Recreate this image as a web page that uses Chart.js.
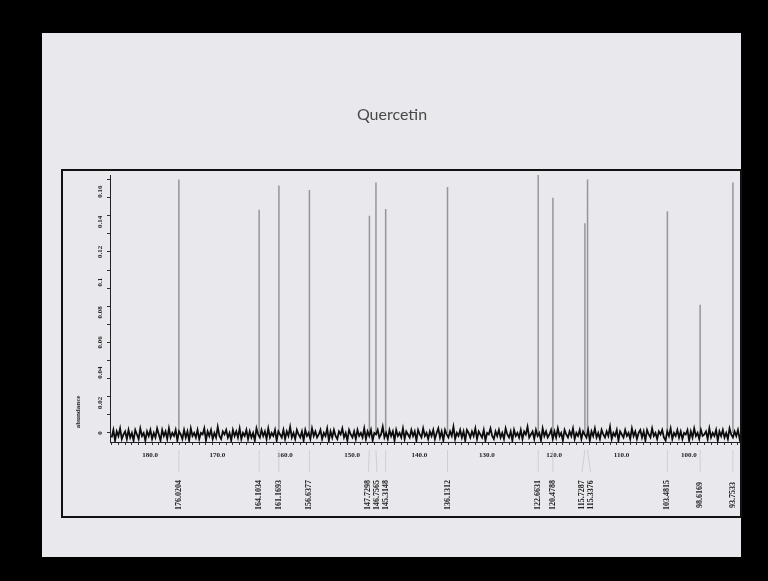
<!DOCTYPE html>
<html>
<head>
<meta charset="utf-8">
<title>Quercetin</title>
<script src="https://cdn.jsdelivr.net/npm/chart.js@4/dist/chart.umd.min.js"></script>
<style>
  html, body { margin: 0; padding: 0; background: #000; }
  canvas { display: block; }
</style>
</head>
<body>
<canvas id="spec" width="768" height="581"></canvas>
<script>
// 13C peaks (ppm) and their heights (abundance)
const peakShift = [176.0204, 164.1034, 161.1693, 156.6377, 147.7298, 146.7565, 145.3148,
  136.1312, 122.6631, 120.4788, 115.7287, 115.3376, 103.4815, 98.6169, 93.7533];
const peakHeight = [0.168, 0.148, 0.164, 0.161, 0.144, 0.166, 0.1485,
  0.163, 0.171, 0.156, 0.139, 0.168, 0.147, 0.085, 0.166];
const peakLabels = ["176.0204", "164.1034", "161.1693", "156.6377", "147.7298", "146.7565", "145.3148",
  "136.1312", "122.6631", "120.4788", "115.7287", "115.3376", "103.4815", "98.6169", "93.7533"];

const noiseStart = 186.0;
const noiseStep = 0.25;
const noise = [
  -0.003, 0.002, -0.005, 0.001, -0.002, 0.003, -0.004, -0.001, 0.001, -0.004,
  0.002, -0.003, 0.000, -0.005, 0.002, -0.001, -0.004, 0.003, -0.002, 0.000,
  -0.005, 0.001, -0.002, 0.002, -0.004, 0.000, -0.003, 0.003, -0.001, -0.005,
  0.002, -0.002, 0.001, -0.004, 0.003, -0.003, 0.000, -0.002, 0.002, -0.005,
  0.001, -0.001, -0.004, 0.002, -0.003, 0.001, -0.005, 0.003, -0.002, 0.000,
  -0.003, 0.002, -0.004, 0.000, -0.001, 0.003, -0.005, 0.001, -0.002, 0.002,
  -0.004, 0.000, -0.003, 0.004, -0.002, -0.004, 0.001, -0.001, 0.002, -0.003,
  0.000, -0.005, 0.002, -0.002, 0.001, -0.003, 0.003, -0.004, 0.000, -0.002,
  0.002, -0.004, 0.001, -0.003, 0.000, -0.005, 0.003, -0.001, -0.003, 0.002,
  -0.002, 0.001, -0.004, 0.003, -0.003, 0.000, -0.002, 0.002, -0.005, 0.001,
  -0.001, -0.003, 0.002, -0.004, 0.001, -0.002, 0.004, -0.003, 0.000, -0.004,
  0.002, -0.001, -0.003, 0.001, -0.005, 0.002, -0.002, 0.000, -0.004, 0.003,
  -0.002, 0.001, -0.003, -0.001, 0.002, -0.004, 0.000, -0.002, 0.003, -0.005,
  0.001, -0.003, 0.002, -0.002, -0.004, 0.001, -0.001, 0.003, -0.003, 0.000,
  -0.005, 0.002, -0.001, -0.003, 0.001, -0.004, 0.002, -0.002, 0.000, -0.003,
  0.003, -0.004, 0.001, -0.002, 0.002, -0.005, 0.000, -0.001, 0.002, -0.003,
  -0.001, 0.004, -0.003, 0.000, -0.004, 0.002, -0.002, 0.001, -0.005, 0.002,
  -0.002, 0.000, -0.003, 0.003, -0.004, 0.001, -0.001, -0.003, 0.002, -0.002,
  0.001, -0.005, 0.002, -0.001, -0.003, 0.003, -0.002, 0.000, -0.004, 0.001,
  -0.002, 0.002, -0.004, 0.000, 0.003, -0.003, 0.001, -0.005, 0.002, -0.001,
  -0.003, 0.001, -0.002, 0.004, -0.004, 0.000, -0.002, 0.002, -0.003, 0.001,
  -0.005, 0.002, 0.000, -0.003, 0.001, -0.002, 0.003, -0.004, 0.001, -0.001,
  -0.003, 0.002, -0.005, 0.000, -0.001, 0.003, -0.002, -0.004, 0.001, -0.002,
  0.002, -0.003, 0.000, -0.004, 0.003, -0.001, -0.003, 0.001, -0.005, 0.002,
  -0.002, 0.000, -0.003, 0.002, -0.004, 0.001, -0.001, 0.004, -0.003, -0.001,
  0.001, -0.004, 0.002, -0.002, 0.000, -0.005, 0.003, -0.002, 0.001, -0.003,
  -0.001, 0.002, -0.004, 0.001, -0.003, 0.003, -0.002, 0.000, -0.005, 0.002,
  -0.001, -0.003, 0.001, -0.002, 0.003, -0.004, 0.000, -0.002, 0.002, -0.004,
  0.001, -0.001, -0.003, 0.002, -0.005, 0.001, -0.002, 0.003, -0.003, 0.000,
  -0.004, 0.002, -0.001, -0.003, 0.001, -0.002, 0.004, -0.004, 0.000, -0.002,
  0.002, -0.005, 0.001, -0.001, -0.003, 0.002, -0.002, 0.000, -0.004, 0.003,
  -0.002, 0.001, -0.004, 0.000, 0.002, -0.003, 0.001, -0.005, 0.002, -0.001,
  -0.003, 0.003, -0.002, 0.000, -0.004, 0.001, -0.001, 0.002, -0.003, -0.005,
  0.001, -0.002, 0.003, -0.004, 0.000, -0.002, 0.002, -0.003, 0.001, -0.004,
  0.000, -0.001, 0.002, -0.005, 0.001, -0.003, 0.003, -0.002, 0.000, -0.004,
  0.002, -0.002, -0.001, 0.001, -0.004, 0.003, -0.003, 0.000, -0.002, 0.002,
  -0.005, 0.001, -0.002, 0.002, -0.003, 0.000, -0.004, 0.003, -0.001, -0.003,
  0.001, -0.002, 0.002, -0.004, 0.000, -0.003, 0.002, -0.001, -0.004, 0.001
];

// axis ticks
const yTickValues = [0, 0.02, 0.04, 0.06, 0.08, 0.1, 0.12, 0.14, 0.16];
const yTickLabels = ["0", "0.02", "0.04", "0.06", "0.08", "0.1", "0.12", "0.14", "0.16"];
const xTickValues = [180, 170, 160, 150, 140, 130, 120, 110, 100];
const xTickLabels = ["180.0", "170.0", "160.0", "150.0", "140.0", "130.0", "120.0", "110.0", "100.0"];

// build datasets
const noisePts = noise.map((v, i) => ({ x: noiseStart - i * noiseStep, y: v }));
const peakPts = [];
peakShift.forEach((s, i) => {
  peakPts.push({ x: s, y: 0 }, { x: s, y: peakHeight[i] }, { x: s, y: null });
});

const serif = '"Liberation Serif", "Times New Roman", serif';

// slide background, frame, title and rotated labels
const slidePlugin = {
  id: "slide",
  beforeDraw(chart) {
    const ctx = chart.ctx;
    ctx.save();
    ctx.fillStyle = "#000";
    ctx.fillRect(0, 0, chart.width, chart.height);
    ctx.fillStyle = "#e9e9ed";
    ctx.fillRect(42, 33, 699, 524);
    ctx.restore();
  },
  afterDraw(chart) {
    const ctx = chart.ctx;
    const xs = chart.scales.x;
    const ys = chart.scales.y;
    ctx.save();

    // frame
    ctx.strokeStyle = "#111";
    ctx.lineWidth = 2;
    ctx.strokeRect(62, 170, 679, 347);

    // title
    ctx.fillStyle = "#484848";
    ctx.font = '16px Lato, "Open Sans", sans-serif';
    ctx.textAlign = "center";
    ctx.textBaseline = "middle";
    ctx.fillText("Quercetin", 392, 115);

    // y tick labels, rotated
    ctx.fillStyle = "#222";
    ctx.font = "bold 7px " + serif;
    yTickValues.forEach((v, i) => {
      const py = ys.getPixelForValue(v);
      ctx.save();
      ctx.translate(100, py);
      ctx.rotate(-Math.PI / 2);
      ctx.fillText(yTickLabels[i], 0, 0);
      ctx.restore();
    });

    // x tick labels
    xTickValues.forEach((v, i) => {
      ctx.fillText(xTickLabels[i], xs.getPixelForValue(v) - 2, 455);
    });

    // axis title
    ctx.save();
    ctx.translate(78, 412);
    ctx.rotate(-Math.PI / 2);
    ctx.fillText("abundance", 0, 0);
    ctx.restore();

    // peak labels: spread close ones apart
    const gap = 8.5;
    const items = peakShift.map((s, i) => ({ px: xs.getPixelForValue(s), i: i }))
      .sort((a, b) => a.px - b.px);
    let groups = [];
    items.forEach(it => {
      const g = groups[groups.length - 1];
      if (g && it.px - g[g.length - 1].px < gap) g.push(it);
      else groups.push([it]);
    });
    groups.forEach(g => {
      const mean = g.reduce((a, b) => a + b.px, 0) / g.length;
      g.forEach((it, k) => { it.lx = mean + (k - (g.length - 1) / 2) * gap; });
    });

    ctx.font = "bold 8px " + serif;
    items.forEach(it => {
      ctx.strokeStyle = "#cfcfd3";
      ctx.lineWidth = 1;
      ctx.beginPath();
      ctx.moveTo(it.px, 450);
      ctx.lineTo(it.lx, 472);
      ctx.stroke();
      ctx.save();
      ctx.translate(it.lx, 495);
      ctx.rotate(-Math.PI / 2);
      ctx.fillStyle = "#222";
      ctx.fillText(peakLabels[it.i], 0, 0);
      ctx.restore();
    });

    ctx.restore();
  }
};

new Chart(document.getElementById("spec"), {
  type: "scatter",
  data: {
    datasets: [
      {
        label: "baseline",
        data: noisePts,
        showLine: true,
        borderColor: "#0c0c0c",
        borderWidth: 1.8,
        pointRadius: 0
      },
      {
        label: "peaks",
        data: peakPts,
        showLine: true,
        spanGaps: false,
        borderColor: "#96969a",
        borderWidth: 1.5,
        pointRadius: 0
      }
    ]
  },
  options: {
    responsive: false,
    animation: false,
    devicePixelRatio: 1,
    layout: { padding: { left: 62, right: 27, top: 175, bottom: 99 } },
    plugins: {
      legend: { display: false },
      tooltip: { enabled: false },
      title: { display: false }
    },
    scales: {
      x: {
        type: "linear",
        reverse: true,
        min: 92.55,
        max: 186.25,
        afterBuildTicks(scale) {
          const t = [];
          for (let v = 93; v <= 186; v++) t.push({ value: v });
          scale.ticks = t;
        },
        afterFit(scale) { scale.height = 40; },
        ticks: { display: true, autoSkip: false, maxRotation: 0, minRotation: 0, callback: () => "" },
        grid: { drawOnChartArea: false, drawTicks: true, tickLength: 3, color: "#333" },
        border: { display: true, color: "#222", width: 1 }
      },
      y: {
        type: "linear",
        min: -0.006,
        max: 0.171,
        afterBuildTicks(scale) {
          const t = [];
          for (let k = 0; k <= 42; k++) t.push({ value: Math.round(k * 4) / 1000 });
          scale.ticks = t;
        },
        afterFit(scale) { scale.width = 48; },
        ticks: { display: true, callback: () => "" },
        grid: { drawOnChartArea: false, drawTicks: true, tickLength: 3, color: "#333" },
        border: { display: true, color: "#222", width: 1 }
      }
    }
  },
  plugins: [slidePlugin]
});
</script>
</body>
</html>
